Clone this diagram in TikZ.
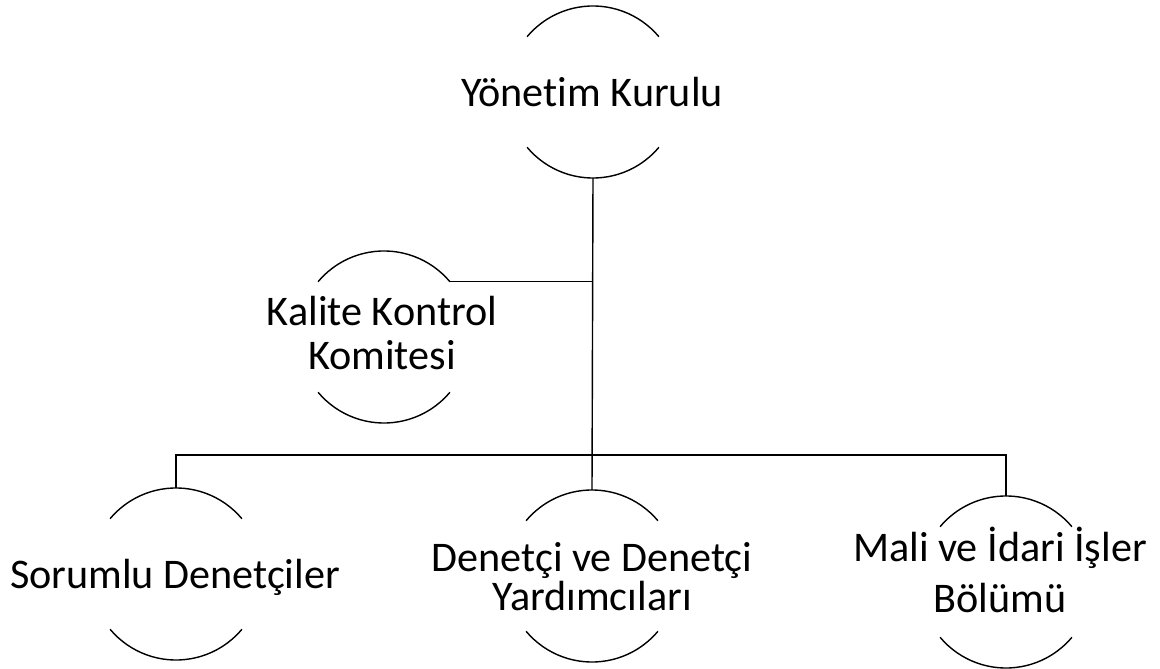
\documentclass[tikz,border=0pt]{standalone}
\usepackage{fontspec}
\setmainfont[Ligatures=NoCommon]{Carlito}
\tikzset{
  ring/.style={circle,minimum size=4.3cm,inner sep=0pt,outer sep=0pt},
  lbl/.style={align=center,inner sep=0pt,anchor=base,font=\fontsize{30}{36}\selectfont},
  half/.style={line width=1pt},
  link/.style={line width=1pt}
}
\begin{document}
\begin{tikzpicture}[x=0.025cm,y=-0.025cm]
      \useasboundingbox (0,0) rectangle (1160,669);
      % Nodes: Circles
      \node[ring] (Y) at (593,92) {};
      \node[ring] (K) at (384,337) {};
      \node[ring] (S) at (176,574) {};
      \node[ring] (D) at (592,576) {};
      \node[ring] (M) at (1006,582) {};
      % Nodes: Texts
      \node[lbl] (Yt) at (592,107) {Yönetim Kurulu};
      \node[lbl,font=\fontsize{30}{32}\selectfont] (Kt) at (382,370) {Kalite Kontrol\\Komitesi};
      \node[lbl] (St) at (175,588) {Sorumlu Denetçiler};
      \node[lbl,font=\fontsize{30}{27.7}\selectfont] (Dt) at (592,610) {Denetçi ve Denetçi\\Yardımcıları};
      \node[lbl,font=\fontsize{30}{35.6}\selectfont] (Mt) at (1000,612) {Mali ve İdari İşler\\Bölümü};
      % Arcs: top and bottom of each circle
      \foreach \c in {Y,K,S,D,M} {
        \draw[half] (\c.40) arc[start angle=40,end angle=140,radius=2.15cm];
        \draw[half] (\c.220) arc[start angle=220,end angle=320,radius=2.15cm];
      }
      % Lines: tree
      \coordinate (bus) at (593,455);
      \draw[link] (Y.south) -- (D.north);
      \draw[link] (K.40) -- (K.40 -| Y.south);
      \draw[link] (S.north) |- (bus) -| (M.north);
\end{tikzpicture}
\end{document}
